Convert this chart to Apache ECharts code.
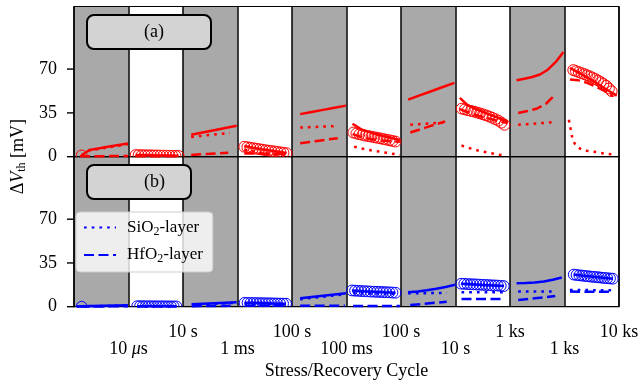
<!DOCTYPE html>
<html><head><meta charset="utf-8">
<script src="https://cdn.jsdelivr.net/npm/echarts@6/dist/echarts.min.js"></script>
<style>html,body{margin:0;padding:0;background:#fff}#c{width:642px;height:386px}</style>
</head><body><div id="c"></div>
<script>
const FONT = 'Liberation Serif';
// column layout: 10 columns, stress (gray) = even index, recovery (white) = odd index
const stressCols = [0, 2, 4, 6, 8];
const yTicks = [0, 35, 70];
const stressEndTicks = [1, 3, 5, 7, 9];
const stressLabels = ['10 μs', '1 ms', '100 ms', '10 s', '1 ks'];
const recoveryEndTicks = [2, 4, 6, 8, 10];
const recoveryLabels = ['10 s', '100 s', '100 s', '1 ks', '10 ks'];

// segments: [column, start fraction, end fraction, values (mV)]
// ---- panel (a)
const aTotal = [
  [0, 0.14, 0.99, [1.2, 5.3, 6.4, 7.5, 8.5, 9.5, 10.5]],
  [1, 0.13, 0.92, [1.4, 1.2, 1.0, 0.9, 0.7]],
  [2, 0.15, 0.985, [17.5, 19.3, 21.1, 22.9, 24.7]],
  [3, 0.125, 0.90, [8.6, 7.2, 6.0, 4.9, 3.9, 3.0]],
  [4, 0.15, 0.99, [34.0, 35.7, 37.4, 39.1, 40.8]],
  [5, 0.11, 0.98, [26.3, 21.5, 19.0, 17.0, 15.2, 13.4]],
  [6, 0.13, 0.98, [45.6, 49.0, 52.3, 55.7, 59.0]],
  [7, 0.08, 0.96, [47.0, 41.0, 38.0, 35.5, 33.0, 30.5, 28.2]],
  [8, 0.12, 0.98, [61.0, 62.3, 63.7, 65.7, 69.5, 75.5, 83.7]],
  [9, 0.10, 0.96, [71.0, 67.5, 64.0, 60.5, 56.5, 52.5, 48.8]]
];
const aSiO2 = [
  [0, 0.14, 0.99, [1.0, 4.9, 6.0, 7.0, 8.0, 9.0, 10.0]],
  [1, 0.13, 0.92, [1.0, 0.8, 0.6, 0.5, 0.4]],
  [2, 0.15, 0.86, [15.8, 16.6, 17.4, 18.2, 19.0]],
  [3, 0.125, 0.90, [5.6, 4.3, 3.1, 2.2, 1.5, 1.0]],
  [4, 0.15, 0.84, [23.3, 23.6, 23.9, 24.2, 24.5]],
  [5, 0.14, 0.98, [8.0, 6.3, 4.9, 3.8, 2.6, 1.4]],
  [6, 0.17, 0.81, [25.5, 26.0, 26.5, 26.9, 27.4]],
  [7, 0.11, 0.87, [8.9, 6.8, 5.0, 3.5, 2.2, 1.1]],
  [8, 0.15, 0.83, [25.5, 26.0, 26.6, 27.1, 27.7]],
  [9, 0.08, 0.87, [29.5, 13.0, 8.0, 6.2, 5.0, 4.5, 4.1, 3.7, 3.1, 2.6, 2.2, 1.9]]
];
const aHfO2 = [
  [0, 0.11, 0.99, [0.3, 0.4, 0.5, 0.6]],
  [1, 0.13, 0.92, [0.4, 0.4, 0.4, 0.4]],
  [2, 0.15, 0.83, [1.4, 1.9, 2.3, 2.8, 3.2]],
  [3, 0.125, 0.90, [2.6, 2.5, 2.4, 2.3]],
  [4, 0.15, 0.84, [10.8, 11.8, 12.8, 13.8, 14.8]],
  [5, 0.11, 0.98, [18.0, 15.5, 14.0, 13.0, 12.3, 12.0]],
  [6, 0.17, 0.81, [19.3, 21.5, 23.8, 26.0, 28.2]],
  [7, 0.08, 0.96, [38.0, 35.0, 32.5, 30.5, 28.5, 27.0]],
  [8, 0.15, 0.83, [34.9, 36.5, 38.3, 42.3, 49.6]],
  [9, 0.10, 0.89, [61.7, 61.0, 59.0, 56.0, 52.5, 48.5]]
];
const aMeas = [
  [0, 0.14, 0.14, [1.0]],
  [1, 0.13, 0.92, [1.3, 1.3, 1.2, 1.2, 1.1, 1.1, 1.0, 1.0, 0.9, 0.9, 0.8, 0.8, 0.7, 0.7, 0.6]],
  [3, 0.125, 0.90, [8.0, 7.6, 7.2, 6.8, 6.4, 6.0, 5.6, 5.2, 4.8, 4.5, 4.2, 3.8, 3.5, 3.1, 2.8]],
  [5, 0.126, 0.90, [19.3, 18.5, 17.9, 17.4, 16.9, 16.4, 16.0, 15.5, 15.1, 14.6, 14.1, 13.6, 13.1, 12.6, 12.1]],
  [7, 0.114, 0.90, [38.4, 37.8, 37.2, 36.6, 36.0, 35.3, 34.6, 33.8, 33.0, 32.1, 31.1, 30.0, 28.8, 27.2, 25.5]],
  [9, 0.16, 0.866, [69.2, 68.4, 67.6, 66.8, 66.0, 65.1, 64.2, 63.2, 62.1, 60.9, 59.6, 58.2, 56.7, 54.5, 52.3]]
];
// ---- panel (b)
const bTotal = [
  [0, 0.05, 0.99, [0.2, 0.5, 0.7, 0.9, 1.1]],
  [1, 0.16, 0.88, [0.4, 0.35, 0.3, 0.3]],
  [2, 0.16, 0.985, [1.9, 2.3, 2.7, 3.1, 3.5]],
  [3, 0.13, 0.89, [3.1, 2.9, 2.6, 2.4]],
  [4, 0.15, 0.99, [6.8, 7.8, 8.8, 9.8, 10.8]],
  [5, 0.10, 0.90, [13.0, 12.4, 11.9, 11.5, 11.2]],
  [6, 0.13, 0.99, [11.6, 12.2, 13.1, 14.3, 15.8, 17.5]],
  [7, 0.10, 0.89, [18.4, 17.9, 17.4, 17.0, 16.5]],
  [8, 0.12, 0.95, [18.8, 19.0, 19.4, 20.2, 21.6, 23.3]],
  [9, 0.17, 0.89, [25.7, 24.8, 24.0, 23.2, 22.4]]
];
const bSiO2 = [
  [0, 0.05, 0.99, [0.1, 0.3, 0.5, 0.7, 0.8]],
  [1, 0.16, 0.88, [0.2, 0.2, 0.2, 0.2]],
  [2, 0.16, 0.985, [1.5, 1.9, 2.3, 2.7, 3.1]],
  [3, 0.13, 0.89, [2.4, 2.2, 2.0, 1.8]],
  [4, 0.15, 0.99, [6.0, 7.0, 8.0, 9.0, 10.0]],
  [5, 0.12, 0.90, [11.0, 10.8, 10.6, 10.4, 10.2]],
  [6, 0.13, 0.84, [10.8, 10.8, 10.9, 11.0]],
  [7, 0.11, 0.91, [11.6, 11.6, 11.5, 11.5]],
  [8, 0.15, 0.83, [12.1, 12.1, 12.1, 12.2]],
  [9, 0.10, 0.90, [13.4, 13.3, 13.2, 13.1]]
];
const bHfO2 = [
  [0, 0.11, 0.99, [0.2, 0.2, 0.3, 0.3]],
  [1, 0.16, 0.88, [0.3, 0.3, 0.3, 0.3]],
  [2, 0.16, 0.90, [0.4, 0.5, 0.6, 0.7]],
  [3, 0.13, 0.89, [0.7, 0.7, 0.7, 0.7]],
  [4, 0.15, 0.97, [0.7, 0.75, 0.8, 0.85]],
  [5, 0.12, 0.98, [0.6, 0.6, 0.5, 0.5]],
  [6, 0.17, 0.84, [1.4, 2.2, 3.1, 4.0]],
  [7, 0.11, 0.87, [6.2, 6.2, 6.1, 6.1]],
  [8, 0.15, 0.83, [5.4, 6.3, 7.3, 8.6]],
  [9, 0.10, 0.89, [12.1, 12.0, 12.0, 11.9]]
];
const bMeas = [
  [0, 0.14, 0.14, [0.0]],
  [1, 0.16, 0.88, [0.4, 0.4, 0.4, 0.35, 0.35, 0.35, 0.3, 0.3, 0.3, 0.3, 0.25, 0.25, 0.25, 0.2, 0.2]],
  [3, 0.13, 0.89, [3.1, 3.05, 3.0, 2.95, 2.9, 2.85, 2.8, 2.75, 2.7, 2.65, 2.6, 2.55, 2.5, 2.45, 2.4]],
  [5, 0.10, 0.90, [13.0, 12.8, 12.7, 12.5, 12.4, 12.3, 12.1, 12.0, 11.9, 11.8, 11.7, 11.6, 11.5, 11.3, 11.2]],
  [7, 0.105, 0.886, [18.4, 18.3, 18.1, 18.0, 17.9, 17.8, 17.6, 17.5, 17.4, 17.3, 17.1, 17.0, 16.9, 16.7, 16.5]],
  [9, 0.17, 0.886, [25.7, 25.4, 25.1, 24.9, 24.6, 24.4, 24.1, 23.9, 23.7, 23.5, 23.2, 23.0, 22.8, 22.6, 22.4]]
];

function pts(seg) {
  const [c, f0, f1, vals] = seg;
  const n = vals.length;
  return vals.map((v, k) => [c + f0 + (n > 1 ? (f1 - f0) * k / (n - 1) : 0), v]);
}
const RED = '#ff0000', BLUE = '#0000ff';
const DOT = [2.7, 5], DASH = [10, 4.5];
const GRID_LEFT = 74, TICK_LEN = 7;
function lines(segs, gi, color, type, name) {
  return segs.map(seg => ({
    type: 'line', name: name, xAxisIndex: gi, yAxisIndex: gi, data: pts(seg),
    symbol: 'none', showSymbol: false, clip: true, silent: true, z: 4,
    lineStyle: { color: color, width: 2.5, type: type, cap: 'butt' },
    itemStyle: { color: color }
  }));
}
function meas(segs, gi, color) {
  return {
    type: 'custom', xAxisIndex: gi, yAxisIndex: gi, clip: true, silent: true, z: 3,
    data: [].concat(...segs.map(pts)),
    encode: { x: 0, y: 1 },
    renderItem: (params, api) => {
      const p = api.coord([api.value(0), api.value(1)]);
      return { type: 'circle', shape: { cx: p[0], cy: p[1], r: 5.4 },
        style: { fill: null, stroke: color, lineWidth: 1 } };
    }
  };
}
function bg(gi) {
  return {
    type: 'line', xAxisIndex: gi, yAxisIndex: gi, data: [], z: 1, silent: true,
    markArea: { silent: true, itemStyle: { color: '#a9a9a9', opacity: 1 },
      data: stressCols.map(c => [{ xAxis: c }, { xAxis: c + 1 }]) }
  };
}
function xBase(gi, extra) {
  return Object.assign({
    type: 'value', gridIndex: gi, min: 0, max: 10, interval: 1, z: 2,
    axisLine: { show: false }, axisTick: { show: false }, axisLabel: { show: false },
    splitLine: { show: true, lineStyle: { color: '#000', width: 1.5 } }
  }, extra || {});
}
function xLabels(ticks, labels, offset) {
  return {
    type: 'value', gridIndex: 1, min: 0, max: 10, position: 'bottom', offset: offset,
    axisLine: { show: false }, axisTick: { show: false }, splitLine: { show: false },
    axisLabel: {
      customValues: ticks, margin: 17, fontSize: 18, fontFamily: FONT, color: '#000',
      showMinLabel: true, showMaxLabel: true,
      formatter: v => labels[ticks.indexOf(Math.round(v))].replace('μ', '{it|μ}'),
      rich: { it: { fontStyle: 'italic', fontSize: 18, fontFamily: FONT, color: '#000' } }
    }
  };
}
function yBase(gi) {
  return {
    type: 'value', gridIndex: gi, min: 0, max: 120,
    axisLine: { show: true, lineStyle: { color: '#000', width: 1.2 } }, splitLine: { show: false },
    axisTick: { show: false },
    axisLabel: { customValues: yTicks, margin: 17, fontSize: 18, fontFamily: FONT, color: '#000' }
  };
}

const chart = echarts.init(document.getElementById('c'), null, { renderer: 'canvas' });
chart.setOption({
  animation: false,
  backgroundColor: '#fff',
  title: [
    { text: '(a)', left: 87, top: 15, padding: [8, 47, 8, 57], backgroundColor: '#d3d3d3',
      borderColor: '#000', borderWidth: 2, borderRadius: 7,
      textStyle: { fontFamily: FONT, fontSize: 18, fontWeight: 'normal', color: '#000' } },
    { text: '(b)', left: 87, top: 165, padding: [8, 26, 8, 57], backgroundColor: '#d3d3d3',
      borderColor: '#000', borderWidth: 2, borderRadius: 7,
      textStyle: { fontFamily: FONT, fontSize: 18, fontWeight: 'normal', color: '#000' } }
  ],
  legend: {
    data: ['SiO2-layer', 'HfO2-layer'], left: 76, top: 212, orient: 'vertical',
    itemWidth: 32, itemHeight: 14, itemGap: 9, padding: [7, 10, 7, 7], selectedMode: false,
    backgroundColor: 'rgba(255,255,255,0.8)', borderColor: '#cccccc', borderWidth: 1, borderRadius: 4,
    itemStyle: { opacity: 0, color: 'rgba(0,0,0,0)', borderWidth: 0 },
    formatter: n => n.replace('2', '{sub|2}'),
    textStyle: { fontFamily: FONT, fontSize: 17, color: '#000', padding: [0, 0, 0, 6],
      rich: { sub: { fontFamily: FONT, fontSize: 12, color: '#000', padding: [8, 0, 0, 0] } } }
  },
  grid: [
    { left: GRID_LEFT, width: 545, top: 6.5, height: 150.2, show: true, z: 2, backgroundColor: 'transparent', borderColor: '#000', borderWidth: 1.2 },
    { left: GRID_LEFT, width: 545, top: 156.7, height: 150, show: true, z: 2, backgroundColor: 'transparent', borderColor: '#000', borderWidth: 1.2 },
    { left: GRID_LEFT, width: 545, top: 6.5, height: 300.2, show: false }
  ],
  xAxis: [
    xBase(0),
    xBase(1, { name: 'Stress/Recovery Cycle', nameLocation: 'middle', nameGap: 56,
      nameTextStyle: { fontFamily: FONT, fontSize: 18, color: '#000' } }),
    xLabels(recoveryEndTicks, recoveryLabels, 0),
    xLabels(stressEndTicks, stressLabels, 16.5),
    { type: 'value', gridIndex: 2, show: false, min: 0, max: 10 }
  ],
  yAxis: [
    yBase(0), yBase(1),
    { type: 'value', gridIndex: 2, min: 0, max: 1, axisLine: { show: false }, axisTick: { show: false },
      axisLabel: { show: false }, splitLine: { show: false },
      name: 'Δ{it|V}{sub|th} [mV]', nameLocation: 'middle', nameGap: 46, nameRotate: 90,
      nameTextStyle: { fontFamily: FONT, fontSize: 18, color: '#000',
        rich: { it: { fontFamily: FONT, fontSize: 18, fontStyle: 'italic', color: '#000' },
                sub: { fontFamily: FONT, fontSize: 12, color: '#000', padding: [8, 0, 0, 0] } } } }
  ],
  series: [].concat(
    bg(0), bg(1),
    meas(aMeas, 0, RED), meas(bMeas, 1, BLUE),
    lines(aTotal, 0, RED, 'solid', 'a-total'),
    lines(aSiO2, 0, RED, DOT, 'a-SiO2'),
    lines(aHfO2, 0, RED, DASH, 'a-HfO2'),
    lines(bTotal, 1, BLUE, 'solid', 'b-total'),
    lines(bSiO2, 1, BLUE, DOT, 'SiO2-layer'),
    lines(bHfO2, 1, BLUE, DASH, 'HfO2-layer')
  )
});

// outward y tick marks, positioned through the library's own y scales, on a top layer
const tickEls = [];
[0, 1].forEach(gi => {
  yTicks.forEach(v => {
    const py = chart.convertToPixel({ yAxisIndex: gi }, v);
    const px = chart.convertToPixel({ xAxisIndex: gi }, 0);
    if (isFinite(py) && isFinite(px)) {
      tickEls.push({ type: 'rect', zlevel: 5, z: 100, silent: true,
        shape: { x: px - TICK_LEN, y: py - 0.7, width: TICK_LEN, height: 1.4 },
        style: { fill: '#000' } });
    }
  });
});
chart.setOption({ graphic: { elements: tickEls } });
</script></body></html>
